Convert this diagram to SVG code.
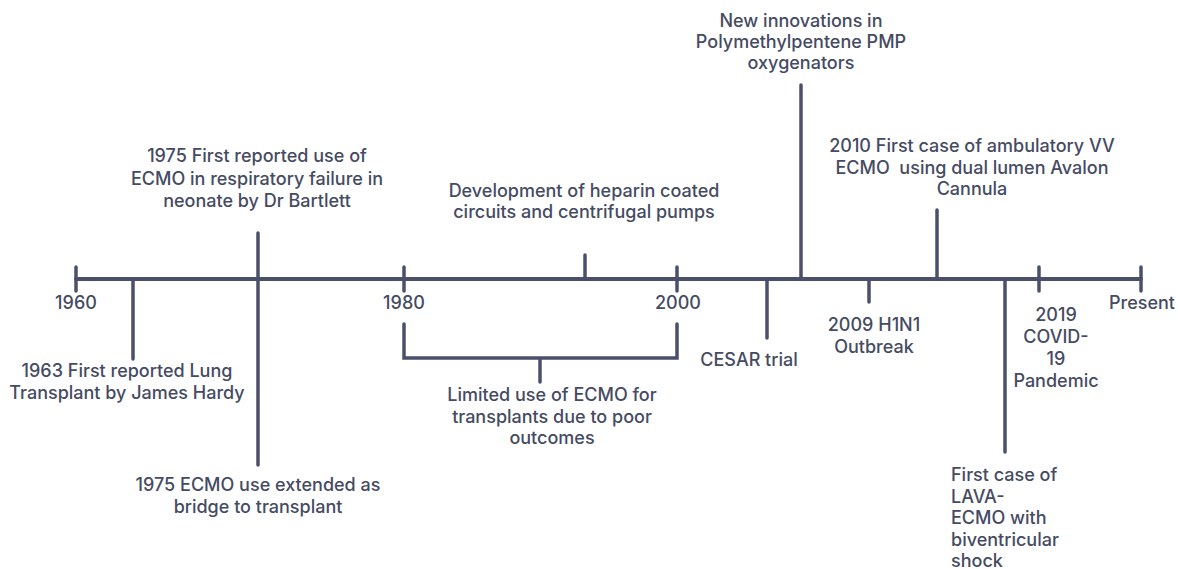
<svg xmlns="http://www.w3.org/2000/svg" width="1178" height="569" viewBox="0 0 1178 569">
<style>
.ln{stroke:#4a5069;stroke-width:4;stroke-linecap:round;fill:none}
.st{stroke:#4a5069;stroke-width:3.5;stroke-linecap:round;fill:none}
text{font-family:Inter,"Noto Sans","Liberation Sans",sans-serif;font-size:18px;font-weight:500;fill:#454b62}
.c{text-anchor:middle}
</style>
<rect width="1178" height="569" fill="#ffffff"/>
<g id="connectors">
<line class="ln" x1="76" y1="279" x2="1141" y2="279"/>
<line class="st" x1="76" y1="267" x2="76" y2="291"/>
<line class="st" x1="404" y1="267" x2="404" y2="291"/>
<line class="st" x1="677" y1="267" x2="677" y2="291"/>
<line class="st" x1="1039" y1="267" x2="1039" y2="291"/>
<line class="st" x1="1141" y1="267" x2="1141" y2="291"/>
<line class="st" x1="133" y1="279" x2="133" y2="359"/>
<line class="st" x1="258" y1="233" x2="258" y2="465"/>
<line class="st" x1="585" y1="255" x2="585" y2="279"/>
<line class="st" x1="767" y1="279" x2="767" y2="338"/>
<line class="st" x1="801" y1="85" x2="801" y2="279"/>
<line class="st" x1="869" y1="279" x2="869" y2="302"/>
<line class="st" x1="937" y1="210" x2="937" y2="279"/>
<line class="st" x1="1005" y1="279" x2="1005" y2="452"/>
<path class="st" d="M404 324 V358 H677 V324 M540 358 V382"/>
</g>
<g id="year-1960"><text class="c" x="76" y="309">1960</text></g>
<g id="year-1980"><text class="c" x="404" y="309">1980</text></g>
<g id="year-2000"><text class="c" x="678" y="309">2000</text></g>
<g id="year-present"><text class="c" x="1142" y="309">Present</text></g>
<g id="event-1963"><text class="c" x="127" y="377">1963 First reported Lung</text><text class="c" x="127" y="399">Transplant by James Hardy</text></g>
<g id="event-1975-neonate"><text class="c" x="257" y="162">1975 First reported use of</text><text class="c" x="257" y="185">ECMO in respiratory failure in</text><text class="c" x="257" y="207">neonate by Dr Bartlett</text></g>
<g id="event-1975-bridge"><text class="c" x="258" y="491">1975 ECMO use extended as</text><text class="c" x="258" y="513">bridge to transplant</text></g>
<g id="event-heparin"><text class="c" x="584" y="197">Development of heparin coated</text><text class="c" x="584" y="218">circuits and centrifugal pumps</text></g>
<g id="event-limited"><text class="c" x="552" y="401">Limited use of ECMO for</text><text class="c" x="552" y="423">transplants due to poor</text><text class="c" x="552" y="444">outcomes</text></g>
<g id="event-cesar"><text class="c" x="749" y="366">CESAR trial</text></g>
<g id="event-pmp"><text class="c" x="801" y="27">New innovations in</text><text class="c" x="801" y="48">Polymethylpentene PMP</text><text class="c" x="801" y="69">oxygenators</text></g>
<g id="event-h1n1"><text class="c" x="874" y="331">2009 H1N1</text><text class="c" x="874" y="353">Outbreak</text></g>
<g id="event-2010"><text class="c" x="972" y="152">2010 First case of ambulatory VV</text><text class="c" x="972" y="174" xml:space="preserve">ECMO  using dual lumen Avalon</text><text class="c" x="972" y="195">Cannula</text></g>
<g id="event-lava"><text x="951" y="481">First case of</text><text x="951" y="502.5">LAVA-</text><text x="951" y="524">ECMO with</text><text x="951" y="545.5">biventricular</text><text x="951" y="567">shock</text></g>
<g id="event-2019"><text class="c" x="1056" y="321">2019</text><text class="c" x="1056" y="343">COVID-</text><text class="c" x="1056" y="365">19</text><text class="c" x="1056" y="387">Pandemic</text></g>
</svg>
